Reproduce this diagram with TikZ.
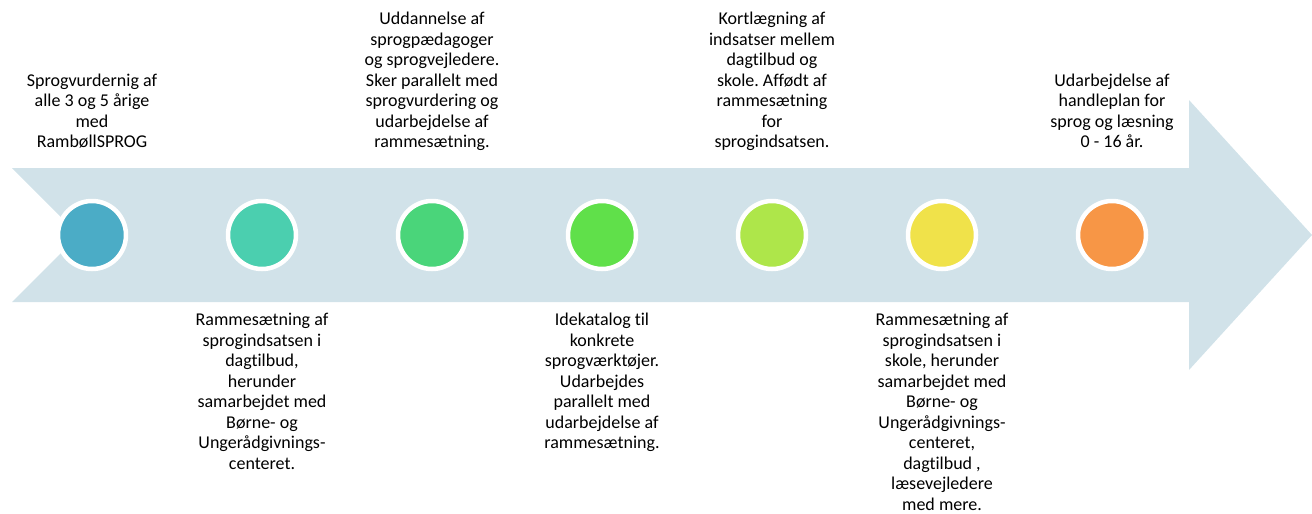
\documentclass[tikz,border=0pt]{standalone}
\usepackage{fontspec}
\setmainfont{Carlito}[RawFeature=-liga]
\frenchspacing
\definecolor{arrowbg}{RGB}{209,226,233}
\definecolor{dotA}{RGB}{75,172,198}
\definecolor{dotB}{RGB}{75,207,175}
\definecolor{dotC}{RGB}{74,213,122}
\definecolor{dotD}{RGB}{96,224,74}
\definecolor{dotE}{RGB}{174,230,74}
\definecolor{dotF}{RGB}{240,226,74}
\definecolor{dotG}{RGB}{247,150,70}
\begin{document}
\begin{tikzpicture}[x=1pt,y=-1pt,line join=round]
\tikzset{dot/.style={circle,minimum size=68pt,inner sep=0pt,draw=white,line width=4.5pt},
  step text/.style={align=center,inner sep=0pt,font=\fontsize{18}{20.5}\selectfont,
    execute at begin node=\strut,execute at end node=\strut},
  above text/.style={step text,anchor=south},
  below text/.style={step text,anchor=north}}
\useasboundingbox (0,0) rectangle (1312,514);
% the big arrow
\fill[arrowbg] (12,168)--(1189,168)--(1189,100)--(1312,235)--(1189,370)--(1189,302)--(12,302)--(79,235)--cycle;
% milestones
\foreach \c [count=\i] in {dotA,dotB,dotC,dotD,dotE,dotF,dotG}
{
\node[dot,fill=\c] (c\i) at ({92+(\i-1)*170},235) {};
}
% texts above and below
\node[above text] (t1) at (92,154) {Sprogvurdernig af\\alle 3 og 5 årige\\med\\RambøllSPROG};
\node[below text] (t2) at (262,313) {Rammesætning af\\sprogindsatsen i\\dagtilbud,\\herunder\\samarbejdet med\\Børne- og\\Ungerådgivnings-\\centeret.};
\node[above text] (t3) at (432,154) {Uddannelse af\\sprogpædagoger\\og sprogvejledere.\\Sker parallelt med\\sprogvurdering og\\udarbejdelse af\\rammesætning.};
\node[below text] (t4) at (602,313) {Idekatalog til\\konkrete\\sprogværktøjer.\\Udarbejdes\\parallelt med\\udarbejdelse af\\rammesætning.};
\node[above text] (t5) at (772,154) {Kortlægning af\\indsatser mellem\\dagtilbud og\\skole. Affødt af\\rammesætning\\for\\sprogindsatsen.};
\node[below text] (t6) at (942,313) {Rammesætning af\\sprogindsatsen i\\skole, herunder\\samarbejdet med\\Børne- og\\Ungerådgivnings-\\centeret,\\dagtilbud ,\\læsevejledere\\med mere.};
\node[above text] (t7) at (1112,154) {Udarbejdelse af\\handleplan for\\sprog og læsning\\0 - 16 år.};
\end{tikzpicture}
\end{document}
